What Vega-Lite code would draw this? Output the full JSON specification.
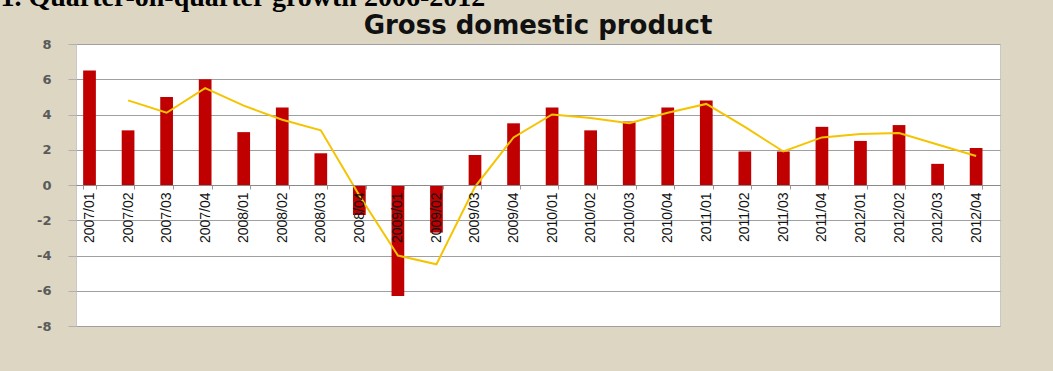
{
  "$schema": "https://vega.github.io/schema/vega-lite/v6.json",
  "autosize": {"type": "none"},
  "width": 924,
  "height": 282,
  "padding": {"left": 76, "right": 53, "top": 44, "bottom": 45},
  "background": "#dcd6c2",
  "title": {
    "text": "Gross domestic product",
    "anchor": "middle",
    "font": "DejaVu Sans",
    "fontSize": 26,
    "fontWeight": "bold",
    "color": "#111111",
    "baseline": "bottom",
    "offset": 0,
    "dy": 82
  },
  "data": {
    "values": [
      {"q": "2007/01", "gdp": 6.5, "trend": null},
      {"q": "2007/02", "gdp": 3.1, "trend": 4.8},
      {"q": "2007/03", "gdp": 5.0, "trend": 4.1},
      {"q": "2007/04", "gdp": 6.0, "trend": 5.5},
      {"q": "2008/01", "gdp": 3.0, "trend": 4.5},
      {"q": "2008/02", "gdp": 4.4, "trend": 3.7},
      {"q": "2008/03", "gdp": 1.8, "trend": 3.1},
      {"q": "2008/04", "gdp": -1.7, "trend": -0.6},
      {"q": "2009/01", "gdp": -6.3, "trend": -4.0},
      {"q": "2009/02", "gdp": -2.7, "trend": -4.5},
      {"q": "2009/03", "gdp": 1.7, "trend": -0.1},
      {"q": "2009/04", "gdp": 3.5, "trend": 2.7},
      {"q": "2010/01", "gdp": 4.4, "trend": 4.0},
      {"q": "2010/02", "gdp": 3.1, "trend": 3.8},
      {"q": "2010/03", "gdp": 3.6, "trend": 3.5},
      {"q": "2010/04", "gdp": 4.4, "trend": 4.1},
      {"q": "2011/01", "gdp": 4.8, "trend": 4.6},
      {"q": "2011/02", "gdp": 1.9, "trend": 3.3},
      {"q": "2011/03", "gdp": 1.9, "trend": 1.9},
      {"q": "2011/04", "gdp": 3.3, "trend": 2.7},
      {"q": "2012/01", "gdp": 2.5, "trend": 2.9},
      {"q": "2012/02", "gdp": 3.4, "trend": 2.95},
      {"q": "2012/03", "gdp": 1.2, "trend": 2.3},
      {"q": "2012/04", "gdp": 2.1, "trend": 1.65}
    ]
  },
  "transform": [
    {"fold": ["gdp", "trend"], "as": ["series", "value"]}
  ],
  "config": {
    "view": {"fill": "#ffffff", "stroke": "#c8c8c8", "strokeWidth": 1}
  },
  "encoding": {
    "x": {
      "field": "q",
      "type": "ordinal",
      "sort": null,
      "scale": {"paddingInner": 0.67, "paddingOuter": 0.32, "align": 0.29},
      "axis": {
        "title": null,
        "orient": "bottom",
        "offset": -141,
        "zindex": 1,
        "labelAngle": -90,
        "labelAlign": "right",
        "labelBaseline": "middle",
        "labelFont": "Liberation Sans",
        "labelFontSize": 14,
        "labelColor": "#111111",
        "labelPadding": 3,
        "tickSize": 4,
        "tickColor": "#999999",
        "tickBand": "extent",
        "domainColor": "#8a8a8a",
        "domainWidth": 1,
        "grid": false
      }
    },
    "y": {
      "field": "value",
      "type": "quantitative",
      "scale": {"domain": [-8, 8], "nice": false, "zero": true},
      "axis": {
        "values": [-8, -6, -4, -2, 0, 2, 4, 6, 8],
        "labelOverlap": false,
        "labelExpr": "'' + datum.value",
        "domain": false,
        "grid": true,
        "gridColor": "#a0a0a0",
        "gridWidth": 1,
        "tickColor": "#b0b0b0",
        "tickSize": 8,
        "labelPadding": 17,
        "labelFont": "DejaVu Sans",
        "labelFontSize": 13,
        "labelFontWeight": "bold",
        "labelColor": "#5a5a5a",
        "title": "1. Quarter-on-quarter growth 2006-2012",
        "titleAngle": 0,
        "titleAlign": "left",
        "titleBaseline": "alphabetic",
        "titleX": -76,
        "titleY": -39,
        "titleFont": "Liberation Serif",
        "titleFontSize": 28,
        "titleFontWeight": "bold",
        "titleColor": "#000000"
      }
    }
  },
  "layer": [
    {
      "transform": [{"filter": "datum.series === 'gdp'"}],
      "mark": {"type": "bar", "color": "#c00000"}
    },
    {
      "transform": [{"filter": "datum.series === 'trend'"}],
      "mark": {"type": "line", "color": "#f5c400", "strokeWidth": 2}
    }
  ]
}
